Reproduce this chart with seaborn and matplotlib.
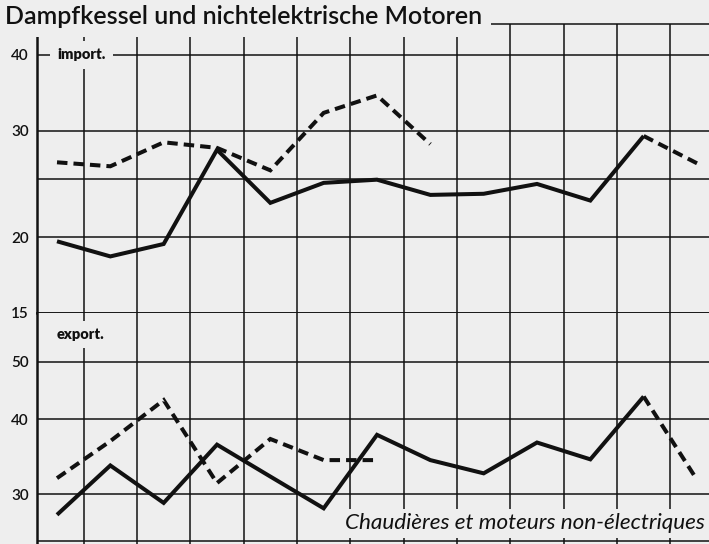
import numpy as np
import pandas as pd
import matplotlib
matplotlib.use("Agg")
import matplotlib.pyplot as plt
from matplotlib.ticker import NullLocator, FixedLocator
import seaborn as sns

# Series (13 consecutive periods), values on a logarithmic scale
periods = list(range(13))
import_solid = [19.7, 18.6, 19.5, 27.9, 22.8, 24.6, 24.9, 23.5, 23.6, 24.5, 23.0, 29.4, np.nan]
import_dashed = [26.6, 26.2, 28.7, 28.1, 25.8, 32.1, 34.3, 28.5, np.nan, np.nan, np.nan, 29.4, 26.5]
export_solid = [27.7, 33.5, 29.0, 36.3, 32.1, 28.4, 37.7, 34.2, 32.5, 36.6, 34.3, 43.7, np.nan]
export_dashed = [31.9, 36.8, 43.1, 31.3, 37.1, 34.2, 34.2, np.nan, np.nan, np.nan, np.nan, 43.7, 31.7]

import_ticks = [15, 20, 25, 30, 40]
import_labels = ["15", "20", "", "30", "40"]
export_ticks = [25, 30, 40, 50]
export_labels = ["", "30", "40", "50"]

title = "Dampfkessel und nichtelektrische Motoren"
subtitle = "Chaudières et moteurs non-électriques"
label_import = "import."
label_export = "export."

BG = "#eeeeee"
INK = "#111111"

sns.set_theme(style="white")
plt.rcParams["font.family"] = ["Lato", "DejaVu Sans"]

W, H = 709, 544
fig = plt.figure(figsize=(W / 100, H / 100), dpi=100, facecolor=BG)


def px_axes(left, top, right, bottom):
    return fig.add_axes([left / W, 1 - bottom / H, (right - left) / W, (bottom - top) / H])


ax_imp = px_axes(37, 24, 709, 313)
ax_exp = px_axes(37, 313, 709, 544)


def runs(values):
    """Split a series into contiguous non-missing segments."""
    s = pd.Series(values, index=periods)
    groups = s.isna().cumsum()
    out = []
    for _, seg in s.groupby(groups):
        seg = seg.dropna()
        if len(seg) > 1:
            out.append(seg)
    return out


solid_kw = dict(color=INK, lw=2.9, solid_joinstyle="miter", solid_capstyle="butt")
dash_kw = dict(color=INK, lw=2.9, linestyle=(0, (2.6, 1.5)),
               dash_joinstyle="miter", dash_capstyle="butt")

for ax, ticks, labels, ylim, solid, dashed in [
    (ax_imp, import_ticks, import_labels, (15, 45.0), import_solid, import_dashed),
    (ax_exp, export_ticks, export_labels, (24.75, 60.3), export_solid, export_dashed),
]:
    ax.set_facecolor(BG)
    ax.set_yscale("log")
    ax.set_ylim(*ylim)
    ax.set_xlim(-0.375, 12.225)
    ax.yaxis.set_major_locator(FixedLocator(ticks))
    ax.yaxis.set_minor_locator(NullLocator())
    ax.set_yticklabels(labels)
    ax.set_xticks([i + 0.5 for i in range(12)])
    ax.set_xticklabels([])
    ax.tick_params(axis="both", length=0, pad=6, labelsize=11, colors=INK)
    for lab in ax.get_yticklabels():
        lab.set_fontweight("semibold")
    ax.grid(True, color=INK, lw=1.1)
    ax.set_axisbelow(True)
    for seg in runs(solid):
        sns.lineplot(x=seg.index, y=seg.values, ax=ax, errorbar=None, **solid_kw)
    for seg in runs(dashed):
        sns.lineplot(x=seg.index, y=seg.values, ax=ax, errorbar=None, **dash_kw)
    ax.set_xlabel("")
    ax.set_ylabel("")
    ax.spines["right"].set_visible(False)
    ax.spines["left"].set_color(INK)
    ax.spines["left"].set_linewidth(1.8)

ax_imp.spines["top"].set_color(INK)
ax_imp.spines["top"].set_linewidth(1.1)
ax_imp.spines["bottom"].set_color(INK)
ax_imp.spines["bottom"].set_linewidth(1.1)
ax_exp.spines["top"].set_visible(False)
ax_exp.spines["bottom"].set_visible(False)

box = dict(boxstyle="square,pad=0.5", fc=BG, ec="none")

ax_imp.text(0.0, 40, label_import, fontsize=10.5, fontweight="heavy", color=INK,
            ha="left", va="center", bbox=box, zorder=5)
ax_exp.text(0.0, 55.5, label_export, fontsize=10.5, fontweight="heavy", color=INK,
            ha="left", va="center", bbox=box, zorder=5)

fig.text(5 / W, 1 - 17 / H, title, fontsize=18, fontweight="semibold", color=INK,
         ha="left", va="center",
         bbox=dict(boxstyle="square,pad=0.35", fc=BG, ec="none"), zorder=10)
fig.text(705 / W, 1 - 523 / H, subtitle, fontsize=16.2, style="italic", color=INK,
         ha="right", va="center",
         bbox=dict(boxstyle="square,pad=0.2", fc=BG, ec="none"), zorder=10)

fig.savefig("out.png", dpi=100, facecolor=BG)
